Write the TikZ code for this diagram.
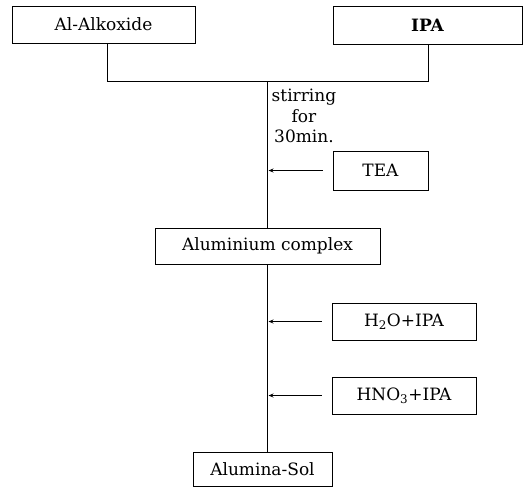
\documentclass[tikz,border=0pt]{standalone}
\usepackage{fontspec}
\setmainfont{DejaVu Serif}
\usetikzlibrary{arrows.meta}
\begin{document}
\begin{tikzpicture}[x=1pt,y=-1pt,
  box/.style={draw,line width=0.8pt,inner sep=0pt,font=\fontsize{17}{20}\selectfont},
  wire/.style={line width=0.8pt},
  feed/.style={line width=0.8pt,-{Stealth[length=5pt,width=4pt]},shorten <=10pt,shorten >=1pt}]
\useasboundingbox (0,0) rectangle (526,488);
\node[box,minimum width=183pt,minimum height=37pt] (alk) at (103.5,24.5) {Al-Alkoxide};
\node[box,minimum width=189pt,minimum height=38pt] (ipa) at (427.5,25) {\bfseries IPA};
\node[box,minimum width=95pt,minimum height=39pt] (tea) at (380.5,170.5) {TEA};
\node[box,minimum width=225pt,minimum height=36pt] (cplx) at (267.5,246) {Aluminium complex};
\node[box,minimum width=144pt,minimum height=37pt] (h2o) at (404,321.5) {H\textsubscript{2}O+IPA};
\node[box,minimum width=144pt,minimum height=37pt] (hno) at (404,395.5) {HNO\textsubscript{3}+IPA};
\node[box,minimum width=139pt,minimum height=34pt] (sol) at (262.5,469) {Alumina-Sol};
\coordinate (j) at (267.5,81);
\coordinate (jl) at (107,81);
\coordinate (jr) at (428,81);
\draw[wire] (alk.south -| jl) -- (jl) -- (jr) -- (ipa.south -| jr);
\draw[wire] (j) -- (j |- cplx.north);
\draw[wire] (cplx.south) -- (cplx.south |- sol.north);
\draw[line width=1.2pt] ([yshift=-6pt]h2o.west -| cplx.south) -- (cplx.south |- sol.north);
\draw[feed] (tea.west) -- (tea.west -| j);
\draw[feed] (h2o.west) -- (h2o.west -| cplx.south);
\draw[feed] (hno.west) -- (hno.west -| cplx.south);
\node[font=\fontsize{17}{20.5}\selectfont,align=center,inner sep=0pt,anchor=north] (stir) at (304,89) {stirring\\for\\30min.};
\end{tikzpicture}
\end{document}
